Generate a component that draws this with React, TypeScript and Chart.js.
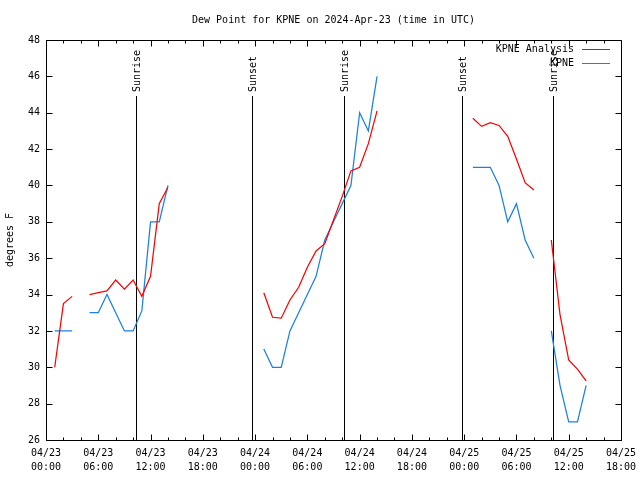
import { useEffect, useRef } from 'react';
import { Chart, registerables } from 'chart.js';

Chart.register(...registerables);

const FONT_FAMILY = '"DejaVu Sans Mono", "Liberation Mono", monospace';
const FONT = `10px ${FONT_FAMILY}`;

const chartTitle = 'Dew Point for KPNE on 2024-Apr-23 (time in UTC)';
const yAxisTitle = 'degrees F';

// hours since 2024-04-23 00:00 UTC
const hours = [
  0, 1, 2, 3, 4, 5, 6, 7, 8, 9, 10, 11, 12, 13, 14, 15, 16, 17, 18, 19, 20,
  21, 22, 23, 24, 25, 26, 27, 28, 29, 30, 31, 32, 33, 34, 35, 36, 37, 38, 39,
  40, 41, 42, 43, 44, 45, 46, 47, 48, 49, 50, 51, 52, 53, 54, 55, 56, 57, 58,
  59, 60, 61, 62,
];

const analysis: (number | null)[] = [
  null, 30.0, 33.5, 33.9,
  null, 34.0, 34.1, 34.2, 34.8, 34.3, 34.8, 33.9, 35.0, 39.0, 39.9,
  null, null, null, null, null, null, null, null, null, null,
  34.1, 32.75, 32.7, 33.7, 34.4, 35.5, 36.4, 36.8, 38.1, 39.4, 40.8, 41.0, 42.3, 44.1,
  null, null, null, null, null, null, null, null, null, null,
  43.7, 43.25, 43.45, 43.3, 42.7, 41.45, 40.15, 39.75,
  null, 37.0, 32.9, 30.4, 29.9, 29.25,
];

const observed: (number | null)[] = [
  null, 32, 32, 32,
  null, 33, 33, 34, 33, 32, 32, 33.1, 38, 38, 40,
  null, null, null, null, null, null, null, null, null, null,
  31, 30, 30, 32, 33, 34, 35, 37, 38, 39, 40, 44, 43, 46,
  null, null, null, null, null, null, null, null, null, null,
  41, 41, 41, 40, 38, 39, 37, 36,
  null, 32, 29, 27, 27, 29,
];

const seriesLabels = ['KPNE Analysis', 'KPNE'];
const seriesColors = ['#ff0000', '#1a80e6'];

const xTickDates = ['04/23', '04/23', '04/23', '04/23', '04/24', '04/24', '04/24', '04/24', '04/25', '04/25', '04/25', '04/25'];
const xTickTimes = ['00:00', '06:00', '12:00', '18:00', '00:00', '06:00', '12:00', '18:00', '00:00', '06:00', '12:00', '18:00'];

const eventHours = [10.28, 23.66, 34.23, 47.72, 58.2];
const eventLabels = ['Sunrise', 'Sunset', 'Sunrise', 'Sunset', 'Sunrise'];

const X_MIN = 0;
const X_MAX = 66;
const Y_MIN = 26;
const Y_MAX = 48;

const decorPlugin = {
  id: 'decor',
  beforeDatasetsDraw(chart: any) {
    const { ctx, chartArea: a, scales } = chart;
    const xs = scales.x;
    const h = a.bottom - a.top;
    ctx.save();
    ctx.strokeStyle = '#000';
    ctx.fillStyle = '#000';
    ctx.lineWidth = 1;
    ctx.font = FONT;
    eventHours.forEach((t, i) => {
      const px = Math.round(xs.getPixelForValue(t)) + 0.5;
      ctx.beginPath();
      ctx.moveTo(px, a.bottom);
      ctx.lineTo(px, Math.round(a.bottom - 0.86 * h));
      ctx.stroke();
      ctx.save();
      ctx.translate(px + 1, a.bottom - 0.87 * h);
      ctx.rotate(-Math.PI / 2);
      ctx.textAlign = 'left';
      ctx.textBaseline = 'middle';
      ctx.fillText(eventLabels[i], 0, 0);
      ctx.restore();
    });
    ctx.restore();
  },
  afterDraw(chart: any) {
    const { ctx, chartArea: a, scales } = chart;
    const xs = scales.x;
    const ys = scales.y;
    ctx.save();
    ctx.strokeStyle = '#000';
    ctx.lineWidth = 1;
    const L = Math.round(a.left) + 0.5;
    const R = Math.round(a.right) + 0.5;
    const T = Math.round(a.top) + 0.5;
    const B = Math.round(a.bottom) + 0.5;
    ctx.beginPath();
    ctx.rect(L, T, R - L, B - T);
    ctx.stroke();
    // x ticks (major every 6 h, minor every 2 h), inward, mirrored
    ctx.beginPath();
    for (let t = X_MIN; t <= X_MAX; t += 2) {
      const px = Math.round(xs.getPixelForValue(t)) + 0.5;
      const len = t % 6 === 0 ? 6 : 3;
      ctx.moveTo(px, B);
      ctx.lineTo(px, B - len);
      ctx.moveTo(px, T);
      ctx.lineTo(px, T + len);
    }
    for (let v = Y_MIN; v <= Y_MAX; v += 2) {
      const py = Math.round(ys.getPixelForValue(v)) + 0.5;
      ctx.moveTo(L, py);
      ctx.lineTo(L + 6, py);
      ctx.moveTo(R, py);
      ctx.lineTo(R - 6, py);
    }
    ctx.stroke();

    // legend
    ctx.font = FONT;
    ctx.fillStyle = '#000';
    ctx.textAlign = 'right';
    ctx.textBaseline = 'middle';
    chart.data.datasets.forEach((ds: any, i: number) => {
      const yy = Math.round(a.top + 9 + 14 * i) + 0.5;
      ctx.fillText(ds.label, a.right - 47, yy);
      ctx.beginPath();
      ctx.strokeStyle = ds.borderColor;
      ctx.moveTo(a.right - 39, yy);
      ctx.lineTo(a.right - 11, yy);
      ctx.stroke();
    });

    // title
    ctx.textAlign = 'center';
    ctx.fillStyle = '#000';
    ctx.fillText(chartTitle, (a.left + a.right) / 2, 20);
    ctx.restore();
  },
};

export default function App() {
  const ref = useRef<HTMLCanvasElement | null>(null);

  useEffect(() => {
    if (!ref.current) return;
    const mk = (vals: (number | null)[]) => hours.map((hh, i) => ({ x: hh, y: vals[i] }));
    const chart = new Chart(ref.current, {
      type: 'line',
      data: {
        datasets: [
          {
            label: seriesLabels[0],
            data: mk(analysis) as any,
            borderColor: seriesColors[0],
            backgroundColor: seriesColors[0],
            borderWidth: 1.25,
            pointRadius: 0,
            tension: 0,
            spanGaps: false,
          },
          {
            label: seriesLabels[1],
            data: mk(observed) as any,
            borderColor: seriesColors[1],
            backgroundColor: seriesColors[1],
            borderWidth: 1.25,
            pointRadius: 0,
            tension: 0,
            spanGaps: false,
          },
        ],
      },
      options: {
        animation: false,
        responsive: false,
        layout: { padding: { top: 40, right: 19, bottom: 0, left: 0 } },
        plugins: {
          legend: { display: false },
          title: { display: false },
          tooltip: { enabled: false },
        },
        scales: {
          x: {
            type: 'linear',
            min: X_MIN,
            max: X_MAX,
            grid: { display: false, drawTicks: false },
            border: { display: false },
            afterFit: (s: any) => {
              s.height = 40;
              s.paddingLeft = 0;
              s.paddingRight = 0;
            },
            afterBuildTicks: (s: any) => {
              s.ticks = xTickDates.map((_, i) => ({ value: X_MIN + i * 6 }));
            },
            ticks: {
              autoSkip: false,
              maxRotation: 0,
              minRotation: 0,
              padding: 6,
              color: '#000',
              font: { family: FONT_FAMILY, size: 10, lineHeight: 1.4 },
              callback: (_v: any, i: number) => [xTickDates[i], xTickTimes[i]],
            },
          },
          y: {
            type: 'linear',
            min: Y_MIN,
            max: Y_MAX,
            grid: { display: false, drawTicks: false },
            border: { display: false },
            afterFit: (s: any) => {
              s.width = 46;
              s.paddingTop = 0;
              s.paddingBottom = 0;
            },
            ticks: {
              stepSize: 2,
              padding: 6,
              color: '#000',
              font: { family: FONT_FAMILY, size: 10 },
            },
            title: {
              display: true,
              text: yAxisTitle,
              color: '#000',
              padding: { top: 4, bottom: 0 },
              font: { family: FONT_FAMILY, size: 10 },
            },
          },
        },
      },
      plugins: [decorPlugin],
    });
    return () => chart.destroy();
  }, []);

  return (
    <div style={{ position: 'fixed', left: 0, top: 0, width: 640, height: 480, background: '#fff' }}>
      <canvas ref={ref} width={640} height={480} style={{ display: 'block' }} />
    </div>
  );
}
